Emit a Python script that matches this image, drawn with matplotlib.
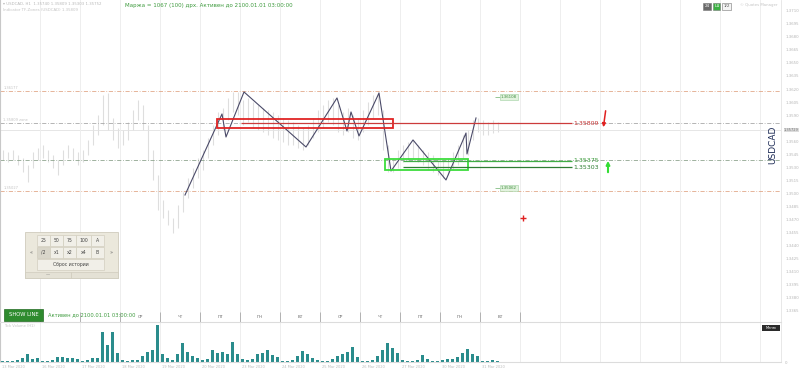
import matplotlib
matplotlib.use("Agg")
import matplotlib.pyplot as plt
import matplotlib.transforms as mtransforms
from matplotlib.patches import Rectangle
from matplotlib.ticker import MultipleLocator, FuncFormatter

# ---- data: 3-hour bars, x measured in days from the left edge ----
bar_high = [1.35499, 1.35476, 1.35499, 1.35441, 1.35407, 1.35326, 1.35476, 1.35522, 1.35556, 1.35499,
            1.35441, 1.35384, 1.35499, 1.35556, 1.35522, 1.35476, 1.35499, 1.35614, 1.35786, 1.35901,
            1.36131, 1.36154, 1.35867, 1.35752, 1.35729, 1.35821, 1.35959, 1.36074, 1.36016, 1.35786,
            1.35499, 1.35211, 1.34924, 1.34809, 1.34717, 1.34866, 1.35016, 1.35177, 1.35292, 1.35407,
            1.35499, 1.35637, 1.35786, 1.35936, 1.35982, 1.36097, 1.36166, 1.36166, 1.36074, 1.36097,
            1.36051, 1.36016, 1.35982, 1.35959, 1.35936, 1.35901, 1.35867, 1.35844, 1.35821, 1.35786,
            1.35752, 1.35786, 1.35867, 1.35959, 1.36016, 1.36074, 1.36097, 1.36016, 1.35936, 1.35982,
            1.35901, 1.35867, 1.35959, 1.36051, 1.36131, 1.36166, 1.35959, 1.35556, 1.35407, 1.35499,
            1.35556, 1.35591, 1.35614, 1.35556, 1.35499, 1.35476, 1.35441, 1.35407, 1.35384, 1.35407,
            1.35476, 1.35556, 1.35671, 1.35729, 1.35844, 1.35867, 1.35844, 1.35821, 1.35844, 1.35821]
bar_low = [1.35384, 1.35361, 1.35384, 1.35326, 1.35246, 1.35131, 1.35292, 1.35384, 1.35407, 1.35361,
           1.35292, 1.35211, 1.35326, 1.35407, 1.35384, 1.35326, 1.35361, 1.35441, 1.35556, 1.35671,
           1.35786, 1.35729, 1.35614, 1.35522, 1.35556, 1.35614, 1.35729, 1.35844, 1.35729, 1.35384,
           1.35154, 1.34809, 1.34717, 1.34636, 1.34544, 1.34602, 1.34786, 1.34947, 1.35062, 1.35177,
           1.35269, 1.35407, 1.35556, 1.35671, 1.35729, 1.35844, 1.35936, 1.35901, 1.35786, 1.35821,
           1.35752, 1.35729, 1.35706, 1.35671, 1.35637, 1.35614, 1.35591, 1.35556, 1.35556, 1.35522,
           1.35499, 1.35556, 1.35637, 1.35706, 1.35752, 1.35821, 1.35786, 1.35706, 1.35671, 1.35706,
           1.35637, 1.35614, 1.35706, 1.35786, 1.35867, 1.35901, 1.35499, 1.35246, 1.35246, 1.35292,
           1.35361, 1.35384, 1.35407, 1.35361, 1.35326, 1.35269, 1.35246, 1.35211, 1.35177, 1.35211,
           1.35269, 1.35326, 1.35407, 1.35441, 1.35614, 1.35706, 1.35671, 1.35671, 1.35694, 1.35706]
tick_volume = [100, 100, 100, 200, 400, 800, 300, 400, 100, 100,
               200, 500, 500, 400, 400, 300, 100, 200, 400, 400,
               3000, 1700, 3000, 900, 200, 100, 200, 200, 600, 1000,
               1200, 3700, 800, 400, 200, 800, 1900, 1000, 600, 400,
               200, 300, 1200, 900, 1000, 800, 2000, 800, 300, 200,
               300, 800, 900, 1200, 700, 500, 100, 100, 200, 600,
               1100, 800, 400, 200, 100, 100, 300, 600, 800, 1000,
               1500, 500, 100, 100, 200, 600, 1200, 1900, 1400, 900,
               200, 100, 100, 200, 700, 300, 100, 100, 200, 300,
               300, 500, 900, 1300, 800, 600, 100, 100, 200, 100]

zigzag_day = [4.625, 5.55, 5.65, 6.1, 7.65, 8.425, 8.675, 8.775, 8.975, 9.475,
              9.775, 10.325, 11.15, 11.65, 11.675, 11.9]
zigzag_price = [1.34981, 1.35913, 1.35648, 1.36166, 1.35533, 1.36097, 1.35717, 1.35936, 1.35660, 1.36154,
                1.35257, 1.35614, 1.35154, 1.35694, 1.35453, 1.35867]

sell_level = 1.35809
buy_levels = [1.35375, 1.35303]
outer_levels = [1.36177, 1.35027]
inner_levels = [1.35809, 1.35384]
last_price = 1.35729
side_marks = [1.36108, 1.35062]

# visible weekday captions, starting with the third day column
weekdays = ["СР", "ЧТ", "ПТ", "ПН", "ВТ", "СР", "ЧТ", "ПТ", "ПН", "ВТ"]
date_days = ["13 Mar", "16 Mar", "17 Mar", "18 Mar", "19 Mar", "20 Mar", "23 Mar",
             "24 Mar", "25 Mar", "26 Mar", "27 Mar", "30 Mar", "31 Mar"]

W, H = 800, 372
fig = plt.figure(figsize=(8, 3.72), dpi=100)
fig.patch.set_facecolor("white")


def frame(x0, y0, x1, y1):
    # pixel box measured from the top-left corner -> figure fraction
    return [x0 / W, 1 - y1 / H, (x1 - x0) / W, (y1 - y0) / H]


ax = fig.add_axes(frame(0, 0, 781, 322))
vol = fig.add_axes(frame(0, 322, 781, 362), sharex=ax)
ui = fig.add_axes([0, 0, 1, 1], zorder=5)
ui.set_xlim(0, W)
ui.set_ylim(H, 0)
ui.axis("off")

bar_x = [(i + 0.5) / 8 for i in range(len(bar_high))]
days_total = 781 / 40

# ---- price panel ----
ax.set_xlim(0, days_total)
ax.set_ylim(1.335205, 1.372235)
ax.set_xticks(range(1, 20))
ax.grid(axis="x", color="#eeeeee", lw=0.7)
ax.tick_params(axis="x", length=0, labelbottom=False)
ax.yaxis.tick_right()
ax.yaxis.set_major_locator(MultipleLocator(0.0015))
# the highlighted last-price tag takes the place of the nearest scale label
ax.yaxis.set_major_formatter(FuncFormatter(lambda v, pos: "" if abs(v - last_price) < 0.0006 else f"{v:.4f}"))
ax.tick_params(axis="y", length=0, pad=3, labelsize=2.8, labelcolor="#b5b5b5")
for s in ("top", "bottom"):
    ax.spines[s].set_visible(False)
ax.spines["left"].set_color("#c8c8c8")
ax.spines["right"].set_color("#e4e4e4")
ax.spines["right"].set_linewidth(0.6)

ax.vlines(bar_x, bar_low, bar_high, color="#dedede", lw=0.8, zorder=1)

for lv in outer_levels:
    ax.axhline(lv, color="#e2a889", lw=0.6, ls=(0, (5, 2, 1, 2)), zorder=2)
    ax.text(0.08, lv + 0.0002, f"{lv:.5f}", fontsize=2.6, color="#c4c4c4")
ax.axhline(inner_levels[0], color="#a8a8a8", lw=0.6, ls=(0, (5, 2, 1, 2)), zorder=2)
ax.axhline(inner_levels[1], color="#8fa58f", lw=0.6, ls=(0, (5, 2, 1, 2)), zorder=2)
ax.text(0.08, inner_levels[0] + 0.0002, f"{inner_levels[0]:.5f} zone", fontsize=2.6, color="#c4c4c4")
ax.axhline(last_price, color="#e2e2e2", lw=0.6, zorder=1)

ax.plot(zigzag_day, zigzag_price, color="#4a4a68", lw=0.8, zorder=4)

ax.add_patch(Rectangle((5.425, 1.35752), 4.4, 0.00103, fill=False, ec="#e02424", lw=1.3, zorder=5))
ax.add_patch(Rectangle((9.625, 1.35269), 2.075, 0.00126, fill=False, ec="#3ddc3d", lw=1.3, zorder=5))

ax.hlines(sell_level, 6.025, 14.3, color="#cc3b3b", lw=0.9, zorder=5)
ax.text(14.33, sell_level, f"{sell_level:.5f}", fontsize=4.5, color="#c83232", va="center")
ax.hlines(buy_levels[0], 10.075, 14.3, color="#3fae45", lw=0.9, zorder=5)
ax.hlines(buy_levels[1], 10.075, 14.3, color="#2e7d32", lw=0.9, zorder=5)
ax.text(14.33, buy_levels[0], f"{buy_levels[0]:.5f}", fontsize=4.5, color="#3a9a3a", va="center")
ax.text(14.33, buy_levels[1] - 0.0001, f"{buy_levels[1]:.5f}", fontsize=4.5, color="#2e7d32", va="center")

ax.annotate("", xy=(15.075, 1.35729), xytext=(15.15, 1.35981),
            arrowprops=dict(arrowstyle="-|>", color="#e02020", lw=1.1, mutation_scale=5))
ax.annotate("", xy=(15.2, 1.35406), xytext=(15.2, 1.35211),
            arrowprops=dict(arrowstyle="-|>", color="#33dd33", lw=1.5, mutation_scale=5))

for lv in side_marks:
    ax.hlines(lv, 12.38, 12.5, color="#6ab06a", lw=0.5)
    ax.text(12.52, lv, f"{lv:.5f}", fontsize=2.8, color="#3a8a3a", va="center",
            bbox=dict(fc="#e3f3df", ec="#9fcf9f", lw=0.4, pad=0.6))

ax.plot(13.075, 1.34716, marker="+", color="#e02020", ms=4, mew=1)

ax.text(1.004, last_price, f"{last_price:.5f}",
        transform=mtransforms.blended_transform_factory(ax.transAxes, ax.transData),
        fontsize=2.6, color="#777777", va="center", bbox=dict(fc="#dcdcdc", ec="none", pad=0.3))

# weekday strip at the bottom of the price panel
strip = mtransforms.blended_transform_factory(ax.transData, ax.transAxes)
ax.vlines(range(1, 14), 0, 0.03, color="#9a9a9a", lw=0.5, transform=strip)
for i, wd in enumerate(weekdays):
    ax.text(i + 3.5, 0.017, wd, transform=strip, fontsize=3, color="#666666", ha="center", va="center")

# ---- volume panel ----
vol.bar(bar_x, tick_volume, width=0.075, color="#2a8c8c", zorder=2)
vol.set_ylim(0, 4000)
vol.grid(axis="x", color="#eeeeee", lw=0.7)
vol.tick_params(axis="x", length=0, labelbottom=False)
vol.yaxis.tick_right()
vol.set_yticks([0])
vol.tick_params(axis="y", length=0, pad=3, labelsize=2.8, labelcolor="#b5b5b5")
for s in ("top", "bottom"):
    vol.spines[s].set_color("#dcdcdc")
vol.spines["left"].set_color("#c8c8c8")
vol.spines["right"].set_color("#e4e4e4")
vol.spines["right"].set_linewidth(0.6)
below = mtransforms.blended_transform_factory(vol.transData, vol.transAxes)
for i, d in enumerate(date_days):
    vol.text(i + 0.05, -0.12, f"{d} 2020", transform=below, fontsize=2.6, color="#bdbdbd", va="center")
vol.text(0.005, 0.9, "Tick Volume (H1)", transform=vol.transAxes, fontsize=2.6, color="#c4c4c4", va="center")

# ---- overlay widgets (pixel coordinates) ----
ui.text(3, 4, "\u25be USDCAD, H1  1.35740 1.35809 1.35303 1.35752", fontsize=2.8, color="#b8b8b8", va="center")
ui.text(3, 10, "Indicator TF-Zones (USDCAD) 1.35809", fontsize=2.8, color="#c4c4c4", va="center")
ui.text(125, 5, "Маржа = 1067 (100) дрх. Активен до 2100.01.01 03:00:00", fontsize=4, color="#3d9a3d", va="center")

for x0, w, lab, fc, tc in [(703, 8, "24", "#6a6a6a", "white"), (713, 7, "Ш", "#3cb043", "white"),
                           (722, 9, "1/2", "#f4f4f4", "#555555")]:
    ui.add_patch(Rectangle((x0, 2.5), w, 7, fc=fc, ec="#777777", lw=0.4))
    ui.text(x0 + w / 2, 6, lab, fontsize=3, color=tc, ha="center", va="center")
ui.text(740, 5, "\u00a9 Quotes Manager", fontsize=2.8, color="#c4c4c4", va="center")

ui.text(773, 145, "USDCAD", rotation=90, fontsize=6.5, color="#1c2a55", ha="center", va="center")

# history panel
ui.add_patch(Rectangle((25, 232), 93, 46, fc="#ebe8dc", ec="#cfcbbd", lw=0.6))
cells = [(37, 13), (50, 13), (63, 13), (76, 15), (91, 13)]
for row, labels in [(235, ["25", "50", "75", "100", "A"]), (247, ["/2", "x1", "x2", "x4", "B"])]:
    for (cx, cw), lab in zip(cells, labels):
        face = "#d9d6ca" if lab == "/2" else "#f1efe8"
        ui.add_patch(Rectangle((cx, row), cw, 11, fc=face, ec="#d2cebf", lw=0.5))
        ui.text(cx + cw / 2, row + 5.5, lab, fontsize=3.3, color="#444444", ha="center", va="center")
ui.text(31, 253, "\u00ab", fontsize=3.5, color="#666666", ha="center", va="center")
ui.text(111, 253, "\u00bb", fontsize=3.5, color="#666666", ha="center", va="center")
ui.add_patch(Rectangle((37, 259), 67, 11, fc="#f1efe8", ec="#d2cebf", lw=0.5))
ui.text(70.5, 264.5, "Сброс истории", fontsize=3.3, color="#444444", ha="center", va="center")
ui.add_patch(Rectangle((25, 272), 46, 6, fc="#e4e1d5", ec="#cfcbbd", lw=0.5))
ui.add_patch(Rectangle((71, 272), 47, 6, fc="#e4e1d5", ec="#cfcbbd", lw=0.5))
ui.text(48, 274.5, "\u2014", fontsize=3, color="#666666", ha="center", va="center")

ui.add_patch(Rectangle((4, 309), 39, 12, fc="#2e8b2e", ec="#236b23", lw=0.5))
ui.text(23.5, 315, "SHOW LINE", fontsize=3.8, color="white", ha="center", va="center")
ui.text(48, 315, "Активен до 2100.01.01 03:00:00", fontsize=3.7, color="#3d9a3d", va="center")

ui.add_patch(Rectangle((762, 325), 18, 5.5, fc="#2b2b2b", ec="none"))
ui.text(771, 327.8, "Меню", fontsize=2.6, color="white", ha="center", va="center")

fig.savefig("out.png", dpi=100)
